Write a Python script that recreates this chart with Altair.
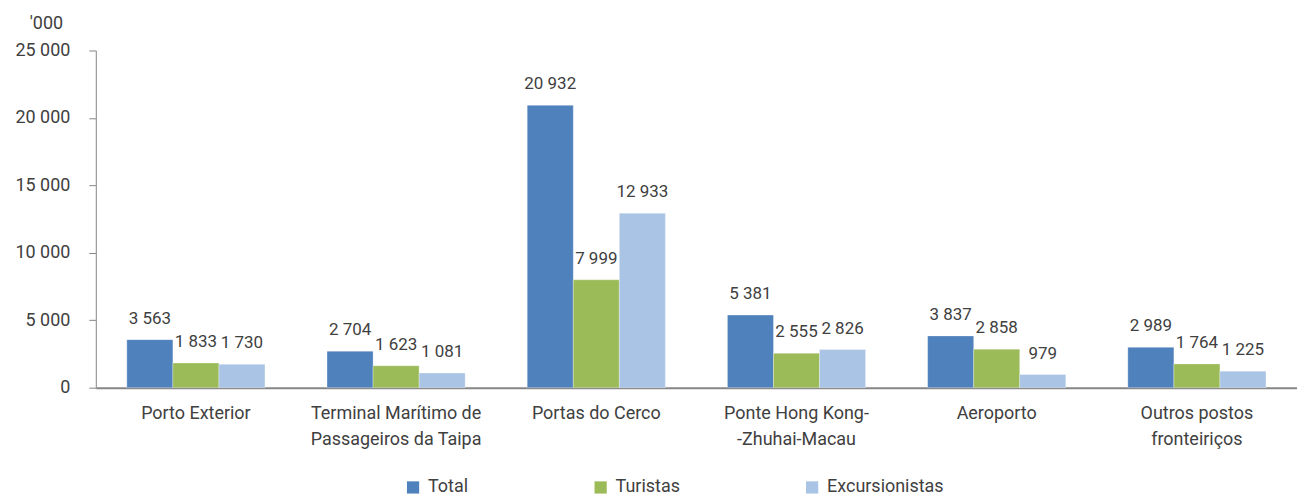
import altair as alt
import pandas as pd

categories = [
    "Porto Exterior",
    "Terminal Marítimo de|Passageiros da Taipa",
    "Portas do Cerco",
    "Ponte Hong Kong-|-Zhuhai-Macau",
    "Aeroporto",
    "Outros postos|fronteiriços",
]
series = ["Total", "Turistas", "Excursionistas"]
total = [3563, 2704, 20932, 5381, 3837, 2989]
turistas = [1833, 1623, 7999, 2555, 2858, 1764]
excursionistas = [1730, 1081, 12933, 2826, 979, 1225]
colors = ["#4F81BD", "#9BBB59", "#A9C4E4"]

rows = []
for i, c in enumerate(categories):
    for s, vals in zip(series, [total, turistas, excursionistas]):
        v = vals[i]
        rows.append({"cat": c, "serie": s, "value": v,
                     "label": f"{v:,}".replace(",", " ")})
df = pd.DataFrame(rows)

FONT = "Liberation Sans Narrow, Roboto, sans-serif"
FS = 18
TXT = "#404040"

x = alt.X("cat:N", sort=categories, title=None,
          scale=alt.Scale(paddingInner=0.31, paddingOuter=0.155),
          axis=alt.Axis(labelAngle=0, labelExpr="split(datum.label, '|')",
                        labelFont=FONT, labelFontSize=FS, labelColor=TXT,
                        labelLineHeight=26, labelPadding=17, ticks=False,
                        domainColor="#868686", domainWidth=2))
xo = alt.XOffset("serie:N", sort=series, scale=alt.Scale(paddingInner=0, paddingOuter=0))
y = alt.Y("value:Q", scale=alt.Scale(domain=[0, 25000], nice=False),
          axis=alt.Axis(values=[0, 5000, 10000, 15000, 20000, 25000],
                        labelExpr="replace(format(datum.value, ','), ',', ' ')",
                        labelFont=FONT, labelFontSize=FS, labelColor=TXT,
                        labelPadding=19, tickSize=7, tickColor="#868686",
                        domainColor="#868686", grid=False,
                        title="'000", titleAngle=0, titleFont=FONT,
                        titleFontSize=FS, titleColor=TXT, titleFontWeight="normal",
                        titleX=-50, titleY=-22, titleAlign="center",
                        titleBaseline="alphabetic"))

bars = alt.Chart(df).mark_bar(stroke="white", strokeWidth=0.5, strokeOpacity=0.6).encode(
    x=x, xOffset=xo, y=y,
    color=alt.Color("serie:N", sort=series,
                    scale=alt.Scale(domain=series, range=colors),
                    legend=alt.Legend(title=None, orient="none", direction="horizontal",
                                      legendX=309, legendY=429, padding=0,
                                      symbolType="square", symbolSize=150,
                                      symbolStrokeWidth=0, symbolOffset=0,
                                      labelFont=FONT, labelFontSize=FS, labelColor=TXT,
                                      labelOffset=6, columnPadding=123)),
)

labels = alt.Chart(df).mark_text(font=FONT, fontSize=17, color=TXT,
                                 baseline="alphabetic", dy=-16).encode(
    x=alt.X("cat:N", sort=categories),
    xOffset=alt.XOffset("serie:N", sort=series),
    y="value:Q",
    text="label:N",
)

chart = (bars + labels).properties(
    width=1204, height=338,
    autosize=alt.AutoSizeParams(type="none"),
    padding={"left": 88, "top": 42, "right": 0, "bottom": 110},
).configure_view(stroke=None)

chart.save("out.html", embed_options={"renderer": "svg", "actions": False})
